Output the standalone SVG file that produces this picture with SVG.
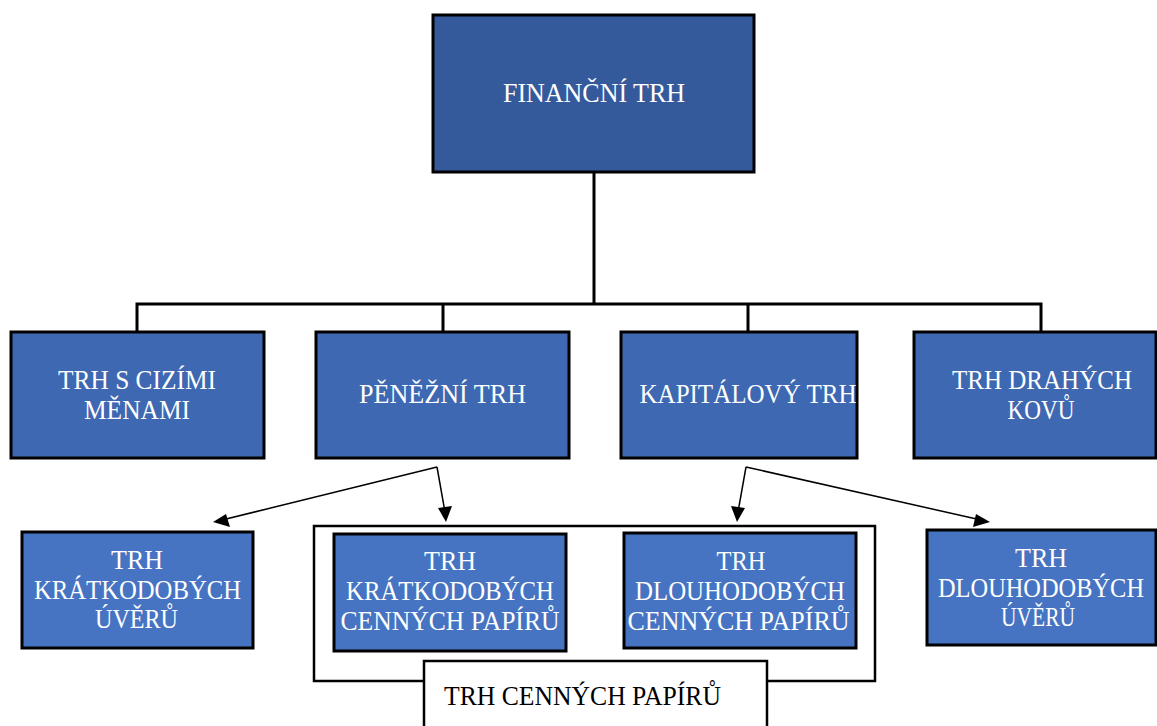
<svg xmlns="http://www.w3.org/2000/svg" width="1157" height="726" viewBox="0 0 1157 726">
<defs>
<style>
.box{stroke:#000;stroke-width:3}
.l1{fill:#345A9C}
.l2{fill:#3E68B1}
.l3{fill:#4674C2}
.t{font-family:"Liberation Serif",serif;font-size:27px;fill:#fff;text-anchor:middle}
.tb{font-family:"Liberation Serif",serif;font-size:27px;fill:#000}
.ln{stroke:#000;stroke-width:3;fill:none}
.ar{stroke:#000;stroke-width:1.5;fill:none}
.ah{fill:#000}
</style>
</defs>
<rect width="1157" height="726" fill="#fff"/>
<g id="connectors">
<path class="ln" d="M594,172 V304 M135.5,304 H1042.5 M137,304 V332 M443,304 V332 M748,304 V332 M1041,304 V332"/>
<path class="ar" d="M437,467 L222,520"/>
<polygon class="ah" points="213,522 226,514 230,527"/>
<path class="ar" d="M437,467 L445,512"/>
<polygon class="ah" points="446,522 438,508 452,506"/>
<path class="ar" d="M746,467 L738,512"/>
<polygon class="ah" points="737,522 731,506 745,508"/>
<path class="ar" d="M746,467 L981,520"/>
<polygon class="ah" points="990,522 973,527 976,514"/>
</g>
<g id="n-financni">
<rect class="box l1" x="433" y="15" width="321" height="157"/>
<text class="t" x="594" y="102" font-size="28.5" textLength="182" lengthAdjust="spacingAndGlyphs">FINANČNÍ TRH</text>
</g>
<g id="n-cizi">
<rect class="box l2" x="11" y="332" width="253" height="126"/>
<text class="t" x="137" y="389" textLength="158" lengthAdjust="spacingAndGlyphs">TRH S CIZÍMI</text>
<text class="t" x="137" y="419" textLength="106" lengthAdjust="spacingAndGlyphs">MĚNAMI</text>
</g>
<g id="n-penezni">
<rect class="box l2" x="316" y="332" width="253" height="126"/>
<text class="t" x="442.5" y="403" textLength="167" lengthAdjust="spacingAndGlyphs">PĚNĚŽNÍ TRH</text>
</g>
<g id="n-kapital">
<rect class="box l2" x="621" y="332" width="236" height="126"/>
<text class="t" x="748" y="403" textLength="217" lengthAdjust="spacingAndGlyphs">KAPITÁLOVÝ TRH</text>
</g>
<g id="n-drahe">
<rect class="box l2" x="914" y="332" width="242" height="126"/>
<text class="t" x="1042" y="389" textLength="180" lengthAdjust="spacingAndGlyphs">TRH DRAHÝCH</text>
<text class="t" x="1041" y="419" textLength="67" lengthAdjust="spacingAndGlyphs">KOVŮ</text>
</g>
<g id="n-kr-uvery">
<rect class="box l3" x="22" y="532" width="231" height="116"/>
<text class="t" x="137" y="569" textLength="52" lengthAdjust="spacingAndGlyphs">TRH</text>
<text class="t" x="137.5" y="599" textLength="207" lengthAdjust="spacingAndGlyphs">KRÁTKODOBÝCH</text>
<text class="t" x="136.5" y="628" textLength="83" lengthAdjust="spacingAndGlyphs">ÚVĚRŮ</text>
</g>
<g id="n-cenne">
<rect x="314" y="526" width="561" height="155" fill="#fff" stroke="#000" stroke-width="2.5"/>
</g>
<g id="n-kr-cp">
<rect class="box l3" x="334" y="534" width="232" height="117"/>
<text class="t" x="450" y="570" textLength="52" lengthAdjust="spacingAndGlyphs">TRH</text>
<text class="t" x="450" y="600" textLength="208" lengthAdjust="spacingAndGlyphs">KRÁTKODOBÝCH</text>
<text class="t" x="450" y="630" textLength="219" lengthAdjust="spacingAndGlyphs">CENNÝCH PAPÍRŮ</text>
</g>
<g id="n-dl-cp">
<rect class="box l3" x="624" y="533" width="232" height="115"/>
<text class="t" x="741" y="570" textLength="49" lengthAdjust="spacingAndGlyphs">TRH</text>
<text class="t" x="740" y="600" textLength="210" lengthAdjust="spacingAndGlyphs">DLOUHODOBÝCH</text>
<text class="t" x="738.5" y="630" textLength="222" lengthAdjust="spacingAndGlyphs">CENNÝCH PAPÍRŮ</text>
</g>
<g id="n-dl-uvery">
<rect class="box l3" x="927" y="530" width="229" height="115"/>
<text class="t" x="1041" y="567" textLength="52" lengthAdjust="spacingAndGlyphs">TRH</text>
<text class="t" x="1041" y="597" font-size="25" textLength="206" lengthAdjust="spacingAndGlyphs">DLOUHODOBÝCH</text>
<text class="t" x="1038" y="626" textLength="74" lengthAdjust="spacingAndGlyphs">ÚVĚRŮ</text>
</g>
<g id="n-label">
<rect x="424" y="661" width="343" height="80" fill="#fff" stroke="#000" stroke-width="2.5"/>
<text class="tb" x="444" y="705" textLength="277" lengthAdjust="spacingAndGlyphs">TRH CENNÝCH PAPÍRŮ</text>
</g>
</svg>
